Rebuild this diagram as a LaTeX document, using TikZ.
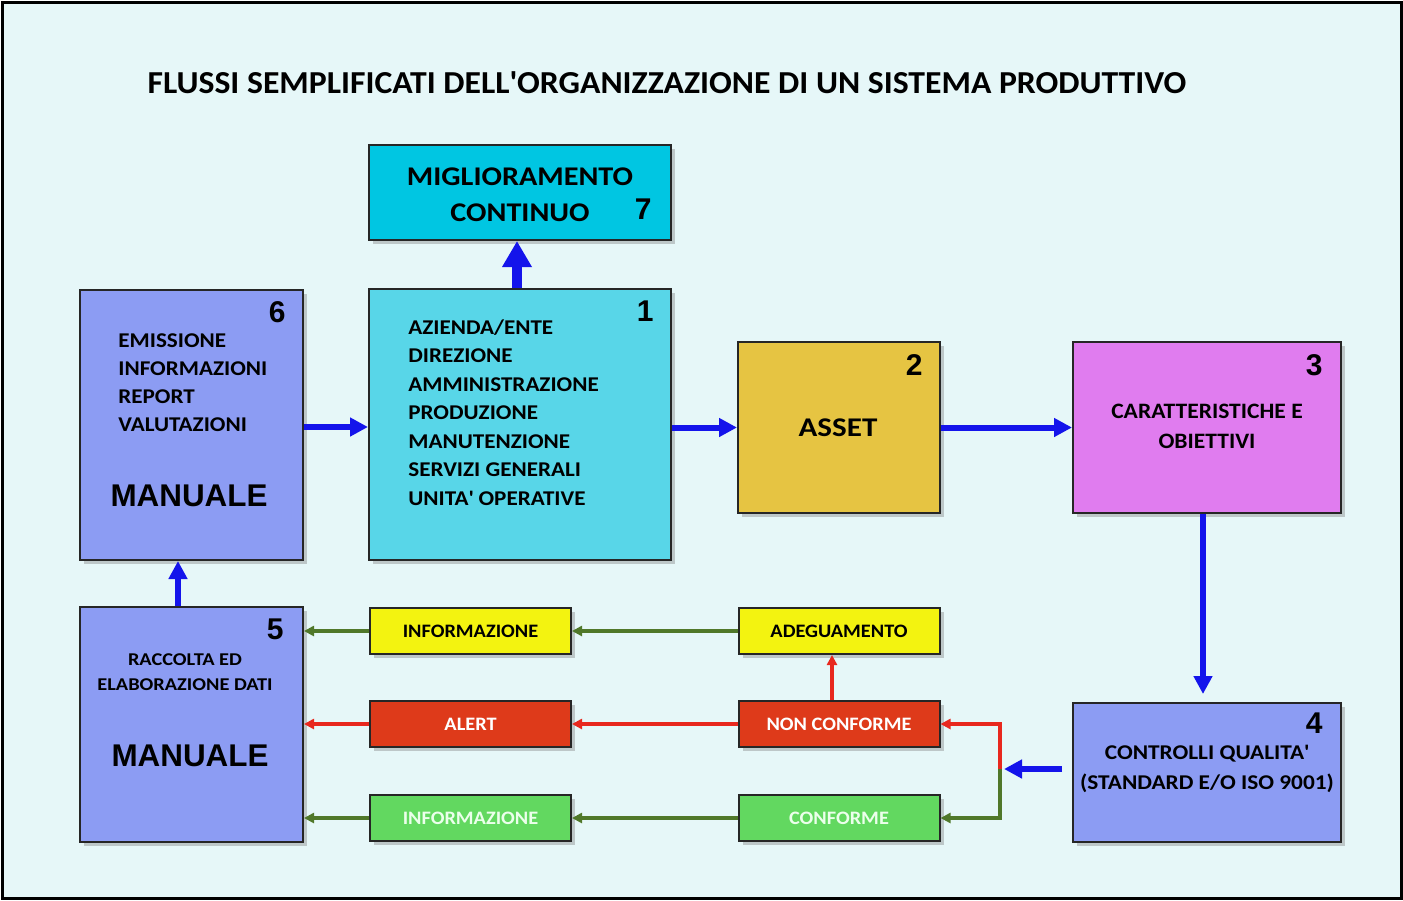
\documentclass[tikz,border=0pt]{standalone}
\usepackage{fontspec}
\setmainfont{Carlito}
\newfontfamily\arialfont{Liberation Sans}
\usetikzlibrary{arrows.meta,shadows}

\definecolor{bgcol}{RGB}{230,247,248}
\definecolor{cyanA}{RGB}{0,198,226}
\definecolor{cyanB}{RGB}{88,214,232}
\definecolor{gold}{RGB}{230,196,66}
\definecolor{violet}{RGB}{224,124,239}
\definecolor{peri}{RGB}{140,156,243}
\definecolor{yellowbox}{RGB}{243,243,16}
\definecolor{redbox}{RGB}{222,58,26}
\definecolor{greenbox}{RGB}{98,216,96}
\definecolor{flowblue}{RGB}{20,20,235}
\definecolor{flowred}{RGB}{232,40,30}
\definecolor{flowgreen}{RGB}{80,120,42}

% size, baselineskip, stretch
\newcommand\boxfont[3]{\bfseries\fontsize{#1}{#2}\selectfont\addfontfeatures{FakeStretch=#3}}
\newcommand\squote{\XeTeXglyph\XeTeXcharglyph"27\relax}

\begin{document}
\begin{tikzpicture}[x=0.5pt,y=-0.5pt,
    box/.style={draw=black!85, line width=1pt, inner sep=0pt,
        drop shadow={shadow xshift=2pt, shadow yshift=-2pt, opacity=0.4}},
    smallbox/.style={box, minimum width=100.5pt, minimum height=23pt,
        font=\boxfont{9.5}{10}{1.07}},
    num/.style={inner sep=0pt, font=\arialfont\bfseries\fontsize{15}{15}\selectfont},
    txt/.style={inner sep=0pt, font=\boxfont{10.5}{14.25}{1.1}},
    big/.style={inner sep=0pt, font=\arialfont\bfseries\fontsize{15.7}{15.7}\selectfont},
    flow/.style={flowblue, line width=3pt, -{Triangle[width=9pt,length=9pt]}},
    redflow/.style={flowred, line width=1.8pt, -{Triangle[width=5pt,length=5pt]}},
    greenflow/.style={flowgreen, line width=1.8pt, -{Triangle[width=5pt,length=5pt]}}]

\useasboundingbox (0,0) rectangle (1403,900);
\draw[line width=1.5pt, fill=bgcol] (2,2) rectangle (1401,898);

\node[inner sep=0pt, font=\boxfont{16}{16}{1.053}] (title) at (667,83)
    {FLUSSI SEMPLIFICATI DELL\squote ORGANIZZAZIONE DI UN SISTEMA PRODUTTIVO};

% upper row
\node[box, fill=cyanA, minimum width=151pt, minimum height=47.5pt] (miglioramento) at (520,192.5) {};
\node[box, fill=cyanB, minimum width=151pt, minimum height=135.5pt] (azienda) at (520,424.5) {};
\node[box, fill=gold, minimum width=101pt, minimum height=85.5pt] (asset) at (839,427.5) {};
\node[box, fill=violet, minimum width=134pt, minimum height=85.5pt] (obiettivi) at (1207,427.5) {};
\node[box, fill=peri, minimum width=111.5pt, minimum height=135pt] (emissione) at (191.5,425) {};

% lower row
\node[box, fill=peri, minimum width=111.5pt, minimum height=117.5pt] (raccolta) at (191.5,724.5) {};
\node[box, fill=peri, minimum width=134pt, minimum height=69.5pt] (controlli) at (1207,772.5) {};

\node[smallbox, fill=yellowbox] (info1) at (470.5,631) {INFORMAZIONE};
\node[smallbox, fill=yellowbox] (adeguamento) at (839,631) {ADEGUAMENTO};
\node[smallbox, fill=redbox, text=white] (alert) at (470.5,724) {ALERT};
\node[smallbox, fill=redbox, text=white] (nonconf) at (839,724) {NON CONFORME};
\node[smallbox, fill=greenbox, text=white!92!green] (info2) at (470.5,818) {INFORMAZIONE};
\node[smallbox, fill=greenbox, text=white!92!green] (conforme) at (839,818) {CONFORME};

% texts
\node[txt, align=center, font=\boxfont{13.5}{18}{1.12}] (miglioramento-t) at (520,195)
    {MIGLIORAMENTO\\CONTINUO};
\node[txt, align=left, anchor=north west] (azienda-t) at (408,319)
    {AZIENDA/ENTE\\DIREZIONE\\AMMINISTRAZIONE\\PRODUZIONE\\MANUTENZIONE\\SERVIZI GENERALI\\UNITA\squote\ OPERATIVE};
\node[txt, font=\boxfont{13.5}{13.5}{1.15}] (asset-t) at (838,428) {ASSET};
\node[txt, align=center, font=\boxfont{11}{15}{1.07}] (obiettivi-t) at (1207,426)
    {CARATTERISTICHE E\\OBIETTIVI};
\node[txt, align=center, font=\boxfont{10.5}{15}{1.11}] (controlli-t) at (1207,769)
    {CONTROLLI QUALITA\squote\\(STANDARD E/O ISO 9001)};
\node[txt, align=left, anchor=north west, font=\boxfont{10.5}{14}{1.1}] (emissione-t) at (118,333)
    {EMISSIONE\\INFORMAZIONI\\REPORT\\VALUTAZIONI};
\node[big] (manuale1) at (189,496) {MANUALE};
\node[txt, align=center, font=\boxfont{9}{12.5}{1.13}] (raccolta-t) at (185,672.5)
    {RACCOLTA ED\\ELABORAZIONE DATI};
\node[big] (manuale2) at (190,756) {MANUALE};

% numbers
\node[num, anchor=north east] (n1) at ([shift={(-9pt,-6pt)}]azienda.north east) {1};
\node[num, anchor=north east] (n2) at ([shift={(-9pt,-6.5pt)}]asset.north east) {2};
\node[num, anchor=north east] (n3) at ([shift={(-9.5pt,-6.5pt)}]obiettivi.north east) {3};
\node[num, anchor=north east] (n4) at ([shift={(-9.5pt,-5pt)}]controlli.north east) {4};
\node[num, anchor=north east] (n5) at ([shift={(-10pt,-6pt)}]raccolta.north east) {5};
\node[num, anchor=north east] (n6) at ([shift={(-9pt,-6pt)}]emissione.north east) {6};
\node[num, anchor=south east] (n7) at ([shift={(-10pt,10.5pt)}]miglioramento.south east) {7};

% blue flows
\draw[flow, line width=5pt, -{Triangle[width=14pt,length=13pt]}]
    ([xshift=-1.5pt]azienda.north) -- ([xshift=-1.5pt]miglioramento.south);
\draw[flow] (emissione.east |- 0,427) -- (azienda.west |- 0,427);
\draw[flow] (azienda.east |- asset) -- (asset.west);
\draw[flow] (asset) -- (obiettivi);
\draw[flow, shorten >=4pt] ([xshift=-2pt]obiettivi.south) -- ([xshift=-2pt]controlli.north);
\draw[flow] ([xshift=-6.75pt]raccolta.north) -- ([xshift=-6.75pt]emissione.south);

\coordinate (split) at (1000,769);
\draw[flow, shorten <=5pt, shorten >=2pt] (controlli.west |- split) -- (split);

% checks
\draw[redflow] (split) |- (nonconf.east);
\draw[greenflow] (split) |- (conforme.east);
\draw[redflow] ([xshift=-3.5pt]nonconf.north) -- ([xshift=-3.5pt]adeguamento.south);
\draw[redflow] (nonconf) -- (alert);
\draw[redflow] (alert) -- (alert -| raccolta.east);
\draw[greenflow] (adeguamento) -- (info1);
\draw[greenflow] (info1) -- (info1 -| raccolta.east);
\draw[greenflow] (conforme) -- (info2);
\draw[greenflow] (info2) -- (info2 -| raccolta.east);

\end{tikzpicture}
\end{document}
